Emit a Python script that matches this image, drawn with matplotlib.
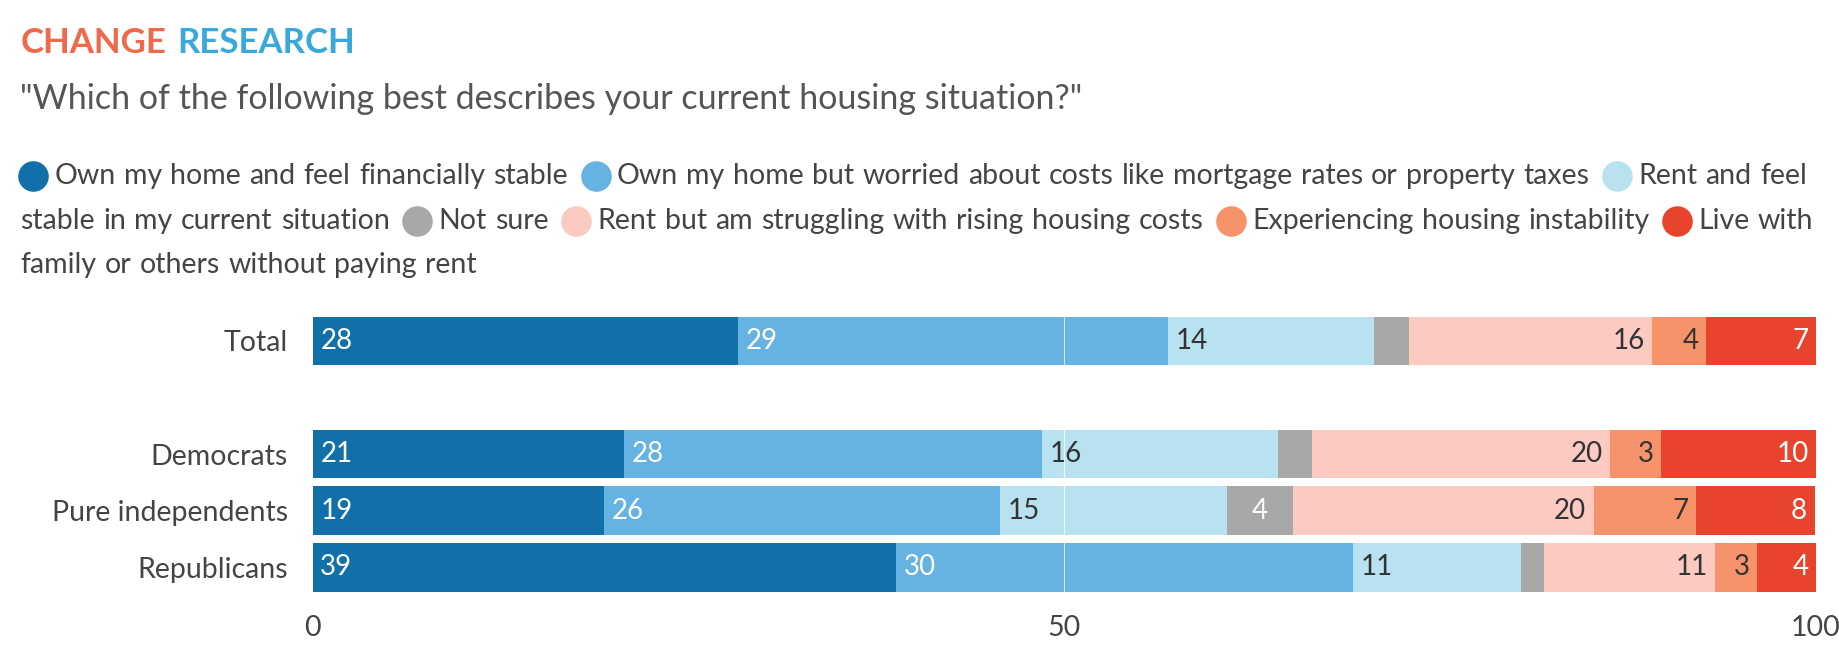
import matplotlib.pyplot as plt

plt.rcParams['font.family'] = ['Lato', 'DejaVu Sans']

groups = ["Total", "Democrats", "Pure independents", "Republicans"]
ypos = [0, 2, 3, 4]
series = ["Own my home and feel financially stable",
          "Own my home but worried about costs like mortgage rates or property taxes",
          "Rent and feel stable in my current situation",
          "Not sure",
          "Rent but am struggling with rising housing costs",
          "Experiencing housing instability",
          "Live with family or others without paying rent"]
colors = ["#1170aa", "#64b3e3", "#b8e2f0", "#a8a8a8", "#fbcbc1", "#f7936a", "#e8432d"]
text_colors = ["white", "white", "#333333", "white", "#333333", "#333333", "white"]
values = [
    [28.3, 20.7, 19.4, 38.8],
    [28.6, 27.8, 26.3, 30.4],
    [13.7, 15.7, 15.1, 11.2],
    [2.3, 2.3, 4.4, 1.5],
    [16.2, 19.8, 20.0, 11.4],
    [3.6, 3.4, 6.8, 2.8],
    [7.3, 10.3, 7.9, 3.9],
]
labels = [
    [28, 21, 19, 39],
    [29, 28, 26, 30],
    [14, 16, 15, 11],
    [None, None, 4, None],
    [16, 20, 20, 11],
    [4, 3, 7, 3],
    [7, 10, 8, 4],
]

fig = plt.figure(figsize=(18.4, 6.58), dpi=100)
ax = fig.add_axes([0.170, 0.095, 0.817, 0.43])

left = [0.0] * len(groups)
for i, s in enumerate(series):
    ax.barh(ypos, values[i], left=left, height=0.86, color=colors[i], edgecolor='none', zorder=2)
    for j in range(len(groups)):
        lab = labels[i][j]
        if lab is not None:
            if i < 3:
                x, ha = left[j] + 0.5, 'left'
            elif i == 3:
                x, ha = left[j] + values[i][j] / 2, 'center'
            else:
                x, ha = left[j] + values[i][j] - 0.5, 'right'
            ax.text(x, ypos[j], str(lab), ha=ha, va='center', fontsize=20,
                    color=text_colors[i], zorder=4)
        left[j] += values[i][j]

ax.axvline(50, color='white', lw=0.8, alpha=0.7, zorder=3)
ax.set_xlim(0, 100)
ax.set_ylim(4.5, -0.5)
ax.set_yticks(ypos)
ax.set_yticklabels(groups, fontsize=20.5, color='#444444')
ax.set_xticks([0, 50, 100])
ax.set_xticklabels(['0', '50', '100'], fontsize=20.5, color='#444444')
ax.tick_params(length=0, pad=18)
ax.tick_params(axis='x', pad=14)
for sp in ax.spines.values():
    sp.set_visible(False)

fig.canvas.draw()
renderer = fig.canvas.get_renderer()
W = fig.bbox.width

# header
t = fig.text(0.011, 0.935, "CHANGE", color="#ee6a4a", fontsize=25, fontweight='bold', va='center')
cw = t.get_window_extent(renderer).width / W
fig.text(0.011 + cw + 0.006, 0.935, "RESEARCH", color="#3aa8dc", fontsize=25, fontweight='bold', va='center')
fig.text(0.011, 0.85, '"Which of the following best describes your current housing situation?"',
         fontsize=24.5, color='#555555', va='center')

# legend, wrapped by hand
x0, xmax = 0.011, 0.99
rows_y = [0.732, 0.664, 0.597]
row = 0
x = x0
items = []
for c, s in zip(colors, series):
    items.append(('dot', c))
    for w in s.split(' '):
        items.append(('word', w))
    items.append(('gap', None))

space = 0.0045
for kind, val in items:
    if kind == 'gap':
        x += 0.0035
        continue
    if kind == 'dot':
        if x + 0.03 > xmax:
            row += 1
            x = x0
        fig.lines.append(plt.Line2D([x + 0.007], [rows_y[row]], marker='o', markersize=21,
                                    color=val, transform=fig.transFigure, figure=fig))
        x += 0.0185
        continue
    t = fig.text(x, rows_y[row], val, fontsize=20.5, color='#444444', va='center')
    wdt = t.get_window_extent(renderer).width / W
    if x + wdt > xmax:
        row += 1
        x = x0
        t.set_position((x, rows_y[row]))
    x += wdt + space

fig.savefig('out.png', dpi=100)
